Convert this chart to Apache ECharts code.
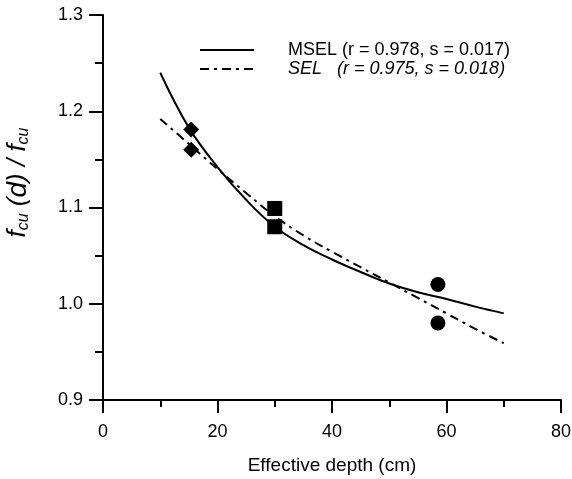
<!DOCTYPE html>
<html><head><meta charset="utf-8">
<script src="https://cdn.jsdelivr.net/npm/echarts@6/dist/echarts.min.js"></script>
<style>html,body{margin:0;padding:0;background:#fff}#c{width:572px;height:479px}</style>
</head><body><div id="c"></div>
<script>
const xTickLabels = [0, 20, 40, 60, 80];
const yTickLabels = [0.9, 1.0, 1.1, 1.2, 1.3];
const lineX = [10, 15, 20, 25, 30, 35, 40, 45, 50, 55, 60, 65, 70];
const mselY = [1.240, 1.183, 1.142, 1.108, 1.080, 1.061, 1.046, 1.033, 1.021, 1.012, 1.005, 0.997, 0.990];
const selY  = [1.192, 1.166, 1.140, 1.115, 1.091, 1.071, 1.054, 1.038, 1.022, 1.006, 0.990, 0.974, 0.959];
const diamondX = [15.4, 15.4];
const diamondY = [1.181, 1.160];
const squareX = [30, 30];
const squareY = [1.099, 1.080];
const circleX = [58.5, 58.5];
const circleY = [1.020, 0.980];
const mselName = 'MSEL (r = 0.978, s = 0.017)';
const selName = 'SEL   (r = 0.975, s = 0.018)';

const zip = (a, b) => a.map((v, i) => [v, b[i]]);
const font = 'Liberation Sans, Arial, sans-serif';
const chart = echarts.init(document.getElementById('c'));
chart.setOption({
  animation: false,
  backgroundColor: '#fff',
  grid: { left: 103, right: 11, top: 15, bottom: 79, containLabel: false, outerBoundsMode: 'none' },
  legend: {
    left: 194, top: 36, orient: 'vertical', itemWidth: 54, itemHeight: 12, itemGap: 1,
    itemStyle: { opacity: 0 },
    data: [
      { name: mselName, textStyle: { fontStyle: 'normal' } },
      { name: selName, textStyle: { fontStyle: 'italic' } }
    ],
    textStyle: { fontFamily: font, fontSize: 18, color: '#000', padding: [0, 0, 0, 29] }
  },
  xAxis: {
    type: 'value', min: 0, max: 80, interval: 20,
    axisLine: { lineStyle: { color: '#000', width: 2 } },
    axisTick: { inside: false, length: 13, lineStyle: { color: '#000', width: 2 } },
    minorTick: { show: true, splitNumber: 2, length: 7, lineStyle: { color: '#000', width: 2 } },
    splitLine: { show: false },
    axisLabel: { fontFamily: font, fontSize: 18, color: '#000', margin: 23,
      formatter: v => xTickLabels.includes(v) ? String(v) : '' },
    name: 'Effective depth (cm)', nameLocation: 'middle', nameGap: 56,
    nameTextStyle: { fontFamily: font, fontSize: 19, color: '#000', verticalAlign: 'top' }
  },
  yAxis: {
    type: 'value', min: 0.9, max: 1.3, interval: 0.1,
    axisLine: { lineStyle: { color: '#000', width: 2 } },
    axisTick: { inside: false, length: 14, lineStyle: { color: '#000', width: 2 } },
    minorTick: { show: true, splitNumber: 2, length: 8, lineStyle: { color: '#000', width: 2 } },
    splitLine: { show: false },
    axisLabel: { fontFamily: font, fontSize: 18, color: '#000', margin: 20,
      formatter: v => { const t = yTickLabels.find(k => Math.abs(k - v) < 1e-6); return t !== undefined ? t.toFixed(1) : ''; } },
    name: '{i|f}{s|cu}{i| (}{d|d}{i|) / f}{s|cu}', nameLocation: 'middle', nameGap: 71,
    nameTextStyle: {
      fontFamily: font, color: '#000', padding: [0, 0, 0, 50],
      rich: {
        i: { fontFamily: font, fontStyle: 'italic', fontSize: 26, color: '#000' },
        d: { fontFamily: font, fontStyle: 'italic', fontSize: 28, color: '#000' },
        s: { fontFamily: font, fontStyle: 'italic', fontSize: 16, color: '#000', padding: [12, 0, 0, 0] }
      }
    }
  },
  series: [
    { name: mselName, type: 'line', data: zip(lineX, mselY), smooth: 0.4, symbol: 'none',
      lineStyle: { color: '#000', width: 2 }, itemStyle: { color: '#000' }, z: 3 },
    { name: selName, type: 'line', data: zip(lineX, selY), smooth: 0.4, symbol: 'none',
      lineStyle: { color: '#000', width: 2, type: [9, 5, 3, 5] }, itemStyle: { color: '#000' }, z: 3 },
    { name: 'diamond', type: 'scatter', data: zip(diamondX, diamondY), symbol: 'diamond', symbolSize: 16,
      itemStyle: { color: '#000', opacity: 1 }, z: 4 },
    { name: 'square', type: 'scatter', data: zip(squareX, squareY), symbol: 'rect', symbolSize: 15,
      itemStyle: { color: '#000', opacity: 1 }, z: 4 },
    { name: 'circle', type: 'scatter', data: zip(circleX, circleY), symbol: 'circle', symbolSize: 15,
      itemStyle: { color: '#000', opacity: 1 }, z: 4 }
  ]
});
</script></body></html>
